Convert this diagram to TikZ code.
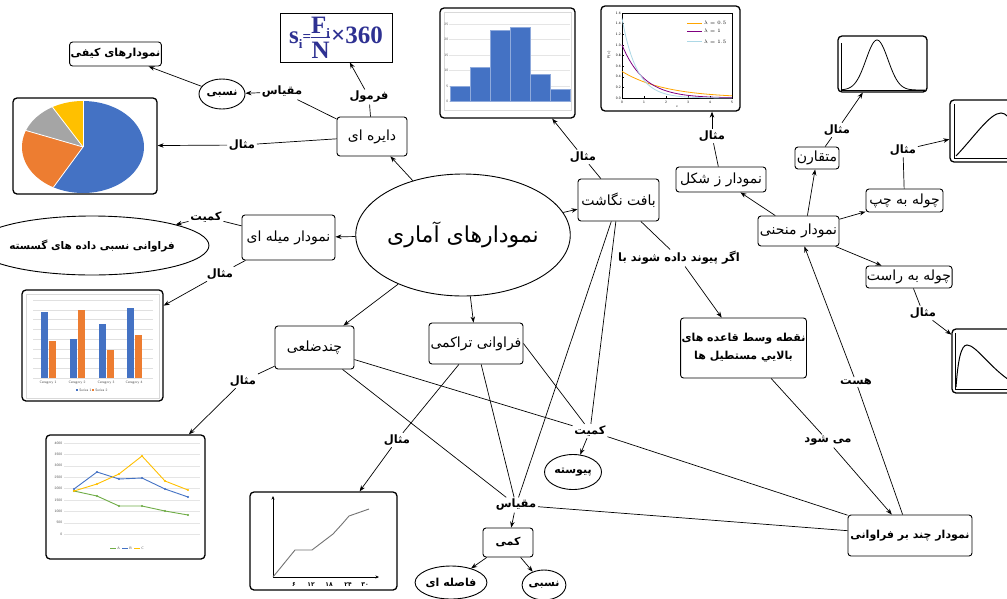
\documentclass[tikz,border=0pt]{standalone}
\usepackage{fontspec}
\usetikzlibrary{shapes.geometric,arrows.meta,calc}
\TeXXeTstate=1
\newfontfamily\fa[Script=Arabic]{DejaVu Sans}
\newfontfamily\tnr{Liberation Serif}
\newcommand{\FA}[1]{{\fa\beginR #1\endR}}
\newcommand{\fsub}[1]{\lower4.5pt\hbox{\fontsize{13}{13}\selectfont #1}}
\definecolor{fblue}{RGB}{46,49,146}
\definecolor{cblue}{RGB}{68,114,196}
\definecolor{corange}{RGB}{237,125,49}
\definecolor{cgray}{RGB}{165,165,165}
\definecolor{cyellow}{RGB}{255,192,0}
\definecolor{cgreen}{RGB}{112,173,71}
\definecolor{eorange}{RGB}{255,165,0}
\definecolor{epurple}{RGB}{128,0,128}
\definecolor{elblue}{RGB}{173,216,230}
\begin{document}
\begin{tikzpicture}[x=1pt,y=-1pt,line width=0.7pt,
  >={Stealth[length=6pt,width=4.5pt]},
  box/.style={draw,rounded corners=3pt,line width=0.9pt,inner sep=1pt,font=\fa\fontsize{14}{16}\selectfont},
  bbox/.style={draw,rounded corners=3pt,line width=0.9pt,inner sep=1pt,font=\fa\bfseries\fontsize{11}{13}\selectfont},
  bell/.style={draw,ellipse,line width=0.9pt,inner sep=0pt,font=\fa\bfseries\fontsize{11}{13}\selectfont},
  lbl/.style={inner sep=1.5pt,font=\fa\bfseries\fontsize{11.5}{13}\selectfont},
  imgbox/.style={draw,rounded corners=4pt,line width=1.3pt,inner sep=0pt},
  ticklbl/.style={font=\sffamily\fontsize{3.5}{4}\selectfont,inner sep=0.5pt,text=black!70},
  curve/.style={line width=1pt}
]
\useasboundingbox (0,0) rectangle (1007,598);
\fill[white] (0,0) rectangle (1007,598);

% ---------- pie chart ----------
\fill[cblue] (83,147) -- plot[domain=90:-119,samples=60] ({83+61*cos(\x)},{147-46*sin(\x)}) -- cycle;
\fill[corange] (83,147) -- plot[domain=-119:-201,samples=30] ({83+61*cos(\x)},{147-46*sin(\x)}) -- cycle;
\fill[cgray] (83,147) -- plot[domain=-201:-240,samples=20] ({83+61*cos(\x)},{147-46*sin(\x)}) -- cycle;
\fill[cyellow] (83,147) -- plot[domain=-240:-270,samples=20] ({83+61*cos(\x)},{147-46*sin(\x)}) -- cycle;
\foreach \a in {90,-119,-201,-240}
  \draw[white,line width=0.8pt] (83,147) -- ({83+61*cos(\a)},{147-46*sin(\a)});
\node[imgbox,minimum width=144pt,minimum height=96pt] (piebox) at (85,146) {};

% ---------- bar chart ----------
\draw[black!15,line width=0.3pt] (26,294) rectangle (159,398);
\foreach \k in {0,...,8}
  \draw[black!12,line width=0.3pt] (33,{300+\k*9.75}) -- (153,{300+\k*9.75});
\foreach \xa/\ya/\yb in {41/312/341,70/339/310,99/324/350,127/308/335}{
  \fill[cblue] (\xa,\ya) rectangle ({\xa+6.5},378);
  \fill[corange] ({\xa+8},\yb) rectangle ({\xa+14.5},378);
}
\foreach \xa/\n in {48/1,77/2,106/3,134/4}
  \node[ticklbl] at (\xa,383) {Category \n};
\fill[cblue] (76,389) rectangle (78,391);
\node[ticklbl,anchor=west] at (78.5,390) {Series 1};
\fill[corange] (92,389) rectangle (94,391);
\node[ticklbl,anchor=west] at (94.5,390) {Series 2};
\node[imgbox,minimum width=141pt,minimum height=111pt] (barbox) at (92.5,345.5) {};

% ---------- line chart ----------
\foreach \k [evaluate=\k as \v using int(4000-500*\k)] in {0,...,8}{
  \draw[black!10,line width=0.3pt] (64,{443+\k*11.4}) -- (200,{443+\k*11.4});
  \node[ticklbl,anchor=east] at (63,{443+\k*11.4}) {\v};
}
\draw[cgreen,line width=0.9pt] plot[mark=*,mark size=0.6pt] coordinates {(74,491)(97,496)(119,506)(142,506)(165,511)(188,515)};
\draw[cblue,line width=0.9pt] plot[mark=*,mark size=0.6pt] coordinates {(74,489)(97,472)(119,479)(142,478)(165,489)(188,497)};
\draw[cyellow,line width=0.9pt] plot[mark=*,mark size=0.6pt] coordinates {(74,491)(97,484)(119,474)(142,456)(165,481)(188,490)};
\draw[cgreen,line width=0.8pt] (110,548) -- (116,548); \node[ticklbl,anchor=west] at (116.5,548) {A};
\draw[cblue,line width=0.8pt] (122,548) -- (128,548); \node[ticklbl,anchor=west] at (128.5,548) {B};
\draw[cyellow,line width=0.8pt] (134,548) -- (140,548); \node[ticklbl,anchor=west] at (140.5,548) {C};
\node[imgbox,minimum width=159pt,minimum height=124pt] (linebox) at (125.5,497) {};

% ---------- cumulative chart ----------
\draw[line width=0.6pt,-{Stealth[length=3.5pt,width=3pt]}] (273,577) -- (273,496);
\draw[line width=0.6pt,-{Stealth[length=3.5pt,width=3pt]}] (273,577) -- (379,577);
\draw[black!55,line width=0.9pt] plot coordinates {(273,577)(295,550)(312,550)(333,534)(343,523)(349,516)(369,509)};
\foreach \xx/\t in {294/۶,311/۱۲,329/۱۸,348/۲۴,365/۳۰}
  \node[inner sep=0pt,font=\fa\bfseries\fontsize{6}{7}\selectfont] at (\xx,585) {\t};
\node[imgbox,minimum width=147pt,minimum height=98pt] (cumbox) at (323.5,541) {};

% ---------- histogram ----------
\draw[black!15,line width=0.3pt] (444,12) rectangle (571,110);
\foreach \yy/\t in {24/25,39/20,55/15,70/10,86/5,101/0}{
  \draw[black!10,line width=0.3pt] (449,\yy) -- (570,\yy);
  \node[ticklbl,anchor=east] at (449,\yy) {\t};
}
\foreach \xa/\yt in {450/86,470/67,490/30,510/27,530/74,550/89}
  \filldraw[fill=cblue,draw=cblue!60!white,line width=0.4pt] (\xa,\yt) rectangle ({\xa+20},101);
\node[imgbox,minimum width=135pt,minimum height=110pt] (histbox) at (507.5,63) {};

% ---------- exponential chart ----------
\draw[line width=0.4pt] (622,13) rectangle (732,98);
\foreach \v/\k in {0.0/0,0.2/1,0.4/2,0.6/3,0.8/4,1.0/5,1.2/6,1.4/7,1.6/8}{
  \draw[line width=0.3pt] (622,{98-\k*10.625}) -- (624,{98-\k*10.625});
  \node[ticklbl,anchor=east,text=black] at (621.5,{98-\k*10.625}) {\v};
}
\foreach \k in {0,...,5}{
  \draw[line width=0.3pt] ({622+22*\k},98) -- ({622+22*\k},96);
  \node[ticklbl,text=black] at ({622+22*\k},102) {\k};
}
\node[ticklbl,text=black] at (677,107) {x};
\node[ticklbl,text=black,rotate=90] at (609,55) {P(x)};
\draw[eorange,line width=0.8pt] plot[domain=0:5,samples=50] ({622+22*\x},{98-53.1*0.5*exp(-0.5*\x)});
\draw[epurple,line width=0.8pt] plot[domain=0:5,samples=50] ({622+22*\x},{98-53.1*exp(-\x)});
\draw[elblue,line width=0.8pt] plot[domain=0:5,samples=60] ({622+22*\x},{98-53.1*1.5*exp(-1.5*\x)});
\draw[eorange,line width=0.8pt] (687,23) -- (702,23);
\draw[epurple,line width=0.8pt] (687,31) -- (702,31);
\draw[elblue,line width=0.8pt] (687,41.5) -- (702,41.5);
\node[ticklbl,text=black,anchor=west,font=\fontsize{4}{5}\selectfont] at (703,23) {$\lambda=0.5$};
\node[ticklbl,text=black,anchor=west,font=\fontsize{4}{5}\selectfont] at (703,31) {$\lambda=1$};
\node[ticklbl,text=black,anchor=west,font=\fontsize{4}{5}\selectfont] at (703,41.5) {$\lambda=1.5$};
\node[imgbox,minimum width=139pt,minimum height=105pt] (expbox) at (670.5,58.5) {};

% ---------- normal curve ----------
\draw[line width=0.5pt] (841,43) -- (841,90) -- (925,90);
\draw[line width=0.8pt] plot[domain=841:925,samples=80] (\x,{90-50*exp(-0.5*((\x-877)/11)^2)});
\node[imgbox,minimum width=89pt,minimum height=56pt] (normbox) at (882.5,64) {};

% ---------- left skew ----------
\draw[line width=0.5pt] (954,104) -- (954,158) -- (1015,158);
\draw[curve] (956,156) .. controls (975,136) and (990,113) .. (1001,113) .. controls (1006,113) and (1010,118) .. (1015,128);
\node[imgbox,minimum width=70pt,minimum height=62pt] (lskew) at (985,131) {};

% ---------- right skew ----------
\draw[line width=0.5pt] (955,333) -- (955,389) -- (1015,389);
\draw[curve] (956,387) .. controls (958,360) and (961,345) .. (967,345) .. controls (976,345) and (990,368) .. (1012,382);
\node[imgbox,minimum width=68pt,minimum height=64pt] (rskew) at (986,361) {};

% ---------- concept nodes ----------
\node[draw,ellipse,line width=0.9pt,minimum width=195pt,minimum height=122pt,inner sep=0pt,font=\fa\fontsize{22}{26}\selectfont] (title) at (463,235) {\FA{نمودارهای آماری}};
\node[box,minimum width=70pt,minimum height=39pt] (dayere) at (372,136.5) {\FA{دایره ای}};
\node[draw,line width=0.9pt,minimum width=112pt,minimum height=49pt,inner sep=0pt,text=fblue,font=\tnr\bfseries\fontsize{25}{27}\selectfont] (formula) at (336,37.5) {$\hbox{s\fsub{i}\raise2pt\hbox{\fontsize{15}{15}\selectfont =}}\vcenter{\offinterlineskip\halign{\hfil#\hfil\cr F\smash{\fsub{i}}\cr\noalign{\kern4pt\hrule height1pt\kern4pt}N\cr}}\hbox{\kern1pt×360}$};
\node[bell,minimum width=46pt,minimum height=30pt] (nesbiA) at (222,94) {\FA{نسبی}};
\node[bbox,minimum width=87pt,minimum height=24pt] (keyfi) at (115.5,54) {\FA{نمودارهای کیفی}};
\node[box,minimum width=93pt,minimum height=45pt] (mileh) at (288.5,237.5) {\FA{نمودار میله ای}};
\node[bell,minimum width=176pt,minimum height=59pt,font=\fa\bfseries\fontsize{10.5}{12}\selectfont] (gosasteh) at (92,245.5) {\FA{فراوانی نسبی داده های گسسته}};
\node[box,minimum width=79pt,minimum height=43pt] (chandzel) at (314.5,347.5) {\FA{چندضلعی}};
\node[box,minimum width=94pt,minimum height=41pt] (taraakomi) at (476,343.5) {\FA{فراوانی تراکمی}};
\node[box,minimum width=81pt,minimum height=42pt] (baft) at (618.5,200) {\FA{بافت نگاشت}};
\node[box,minimum width=90pt,minimum height=25pt] (zshape) at (721,179.5) {\FA{نمودار ز شکل}};
\node[bbox,minimum width=123pt,minimum height=60pt,align=center] (noghte) at (743.5,348) {\FA{نقطه وسط قاعده های}\\[5pt]\FA{بالايي مستطيل ها}};
\node[box,minimum width=81pt,minimum height=30pt] (monhani) at (798.5,231) {\FA{نمودار منحنی}};
\node[box,minimum width=44pt,minimum height=22pt] (motaghaaren) at (817,158) {\FA{متقارن}};
\node[box,minimum width=77pt,minimum height=23pt] (chapp) at (904.5,200.5) {\FA{چوله به چپ}};
\node[box,minimum width=86pt,minimum height=22pt] (raast) at (909,277) {\FA{چوله به راست}};
\node[bbox,minimum width=124pt,minimum height=41pt] (chandbar) at (910,535.5) {\FA{نمودار چند بر فراوانی}};
\node[bbox,minimum width=50pt,minimum height=29pt] (kammi) at (508,542.5) {\FA{کمی}};
\node[bell,minimum width=63pt,minimum height=33pt] (faseleh) at (451,582.5) {\FA{فاصله ای}};
\node[bell,minimum width=42pt,minimum height=30pt] (nesbiB) at (544,585) {\FA{نسبی}};
\node[bell,minimum width=57pt,minimum height=35pt] (peyvasteh) at (573,472) {\FA{پیوسته}};

% ---------- link labels ----------
\node[lbl] (lMeghyasA) at (282,92) {\FA{مقیاس}};
\node[lbl] (lFormul) at (369,97) {\FA{فرمول}};
\node[lbl] (lMesalA) at (242,145) {\FA{مثال}};
\node[lbl] (lKamiyatA) at (206,217) {\FA{کمیت}};
\node[lbl] (lMesalB) at (220,274) {\FA{مثال}};
\node[lbl] (lMesalC) at (243,381) {\FA{مثال}};
\node[lbl] (lMesalD) at (397,440) {\FA{مثال}};
\node[lbl] (lMesalE) at (583,157) {\FA{مثال}};
\node[lbl] (lAgar) at (679,258) {\FA{اگر پیوند داده شوند با}};
\node[lbl] (lMesalF) at (712,136) {\FA{مثال}};
\node[lbl] (lMesalG) at (837,130) {\FA{مثال}};
\node[lbl] (lMesalH) at (903,150) {\FA{مثال}};
\node[lbl] (lMesalI) at (923,313) {\FA{مثال}};
\node[lbl] (lHast) at (856,382) {\FA{هست}};
\node[lbl] (lMishavad) at (828,441) {\FA{می شود}};
\node[lbl] (lKamiyatB) at (590,431) {\FA{کمیت}};
\node[lbl] (lMeghyasB) at (516,505) {\FA{مقیاس}};

% ---------- connectors ----------
\draw[->] (title) -- (dayere);
\draw[->] (title) -- (mileh);
\draw[->] (title) -- (chandzel);
\draw[->] (title) -- (taraakomi);
\draw[->] (title) -- (baft);
\draw (dayere) -- (lMeghyasA); \draw[->] (lMeghyasA) -- (nesbiA);
\draw[->] (nesbiA) -- (keyfi);
\draw (dayere) -- (lFormul); \draw[->] (lFormul) -- (formula);
\draw (dayere) -- (lMesalA); \draw[->] (lMesalA) -- (piebox);
\draw (mileh) -- (lKamiyatA); \draw[->] (lKamiyatA) -- (gosasteh);
\draw (mileh) -- (lMesalB); \draw[->] (lMesalB) -- (barbox);
\draw (chandzel) -- (lMesalC); \draw[->] (lMesalC) -- (linebox);
\draw (taraakomi) -- (lMesalD); \draw[->] (lMesalD) -- (cumbox);
\draw (baft) -- (lMesalE); \draw[->] (lMesalE) -- (histbox);
\draw (baft) -- (lAgar); \draw[->] (lAgar) -- (noghte);
\draw[->] (monhani) -- (zshape);
\draw (zshape) -- (lMesalF); \draw[->] (lMesalF) -- (lMesalF |- expbox.south);
\draw[->] (monhani.60) -- (motaghaaren);
\draw (motaghaaren) -- (lMesalG); \draw[->] (lMesalG) -- (normbox);
\draw[->] (monhani) -- (chapp);
\draw (chapp) -- (lMesalH); \draw[->] (lMesalH) -- (lskew);
\draw[->] (monhani) -- (raast);
\draw (raast) -- (lMesalI); \draw[->] (lMesalI) -- (rskew);
\draw (noghte) -- (lMishavad); \draw[->] (lMishavad) -- (chandbar);
\draw (chandbar) -- (lHast); \draw[->] (lHast) -- (monhani);
\draw (chandzel) -- (lKamiyatB);
\draw (taraakomi.east) -- (lKamiyatB);
\draw (baft) -- (lKamiyatB);
\draw[->] (lKamiyatB) -- (peyvasteh);
\draw (lKamiyatB) -- (chandbar);
\draw (chandzel) -- (lMeghyasB);
\draw (taraakomi) -- (lMeghyasB);
\draw (baft) -- (lMeghyasB);
\draw[->] (lMeghyasB) -- (kammi);
\draw (lMeghyasB) -- (chandbar);
\draw[->] (kammi) -- (faseleh);
\draw[->] (kammi) -- (nesbiB);
\end{tikzpicture}
\end{document}
